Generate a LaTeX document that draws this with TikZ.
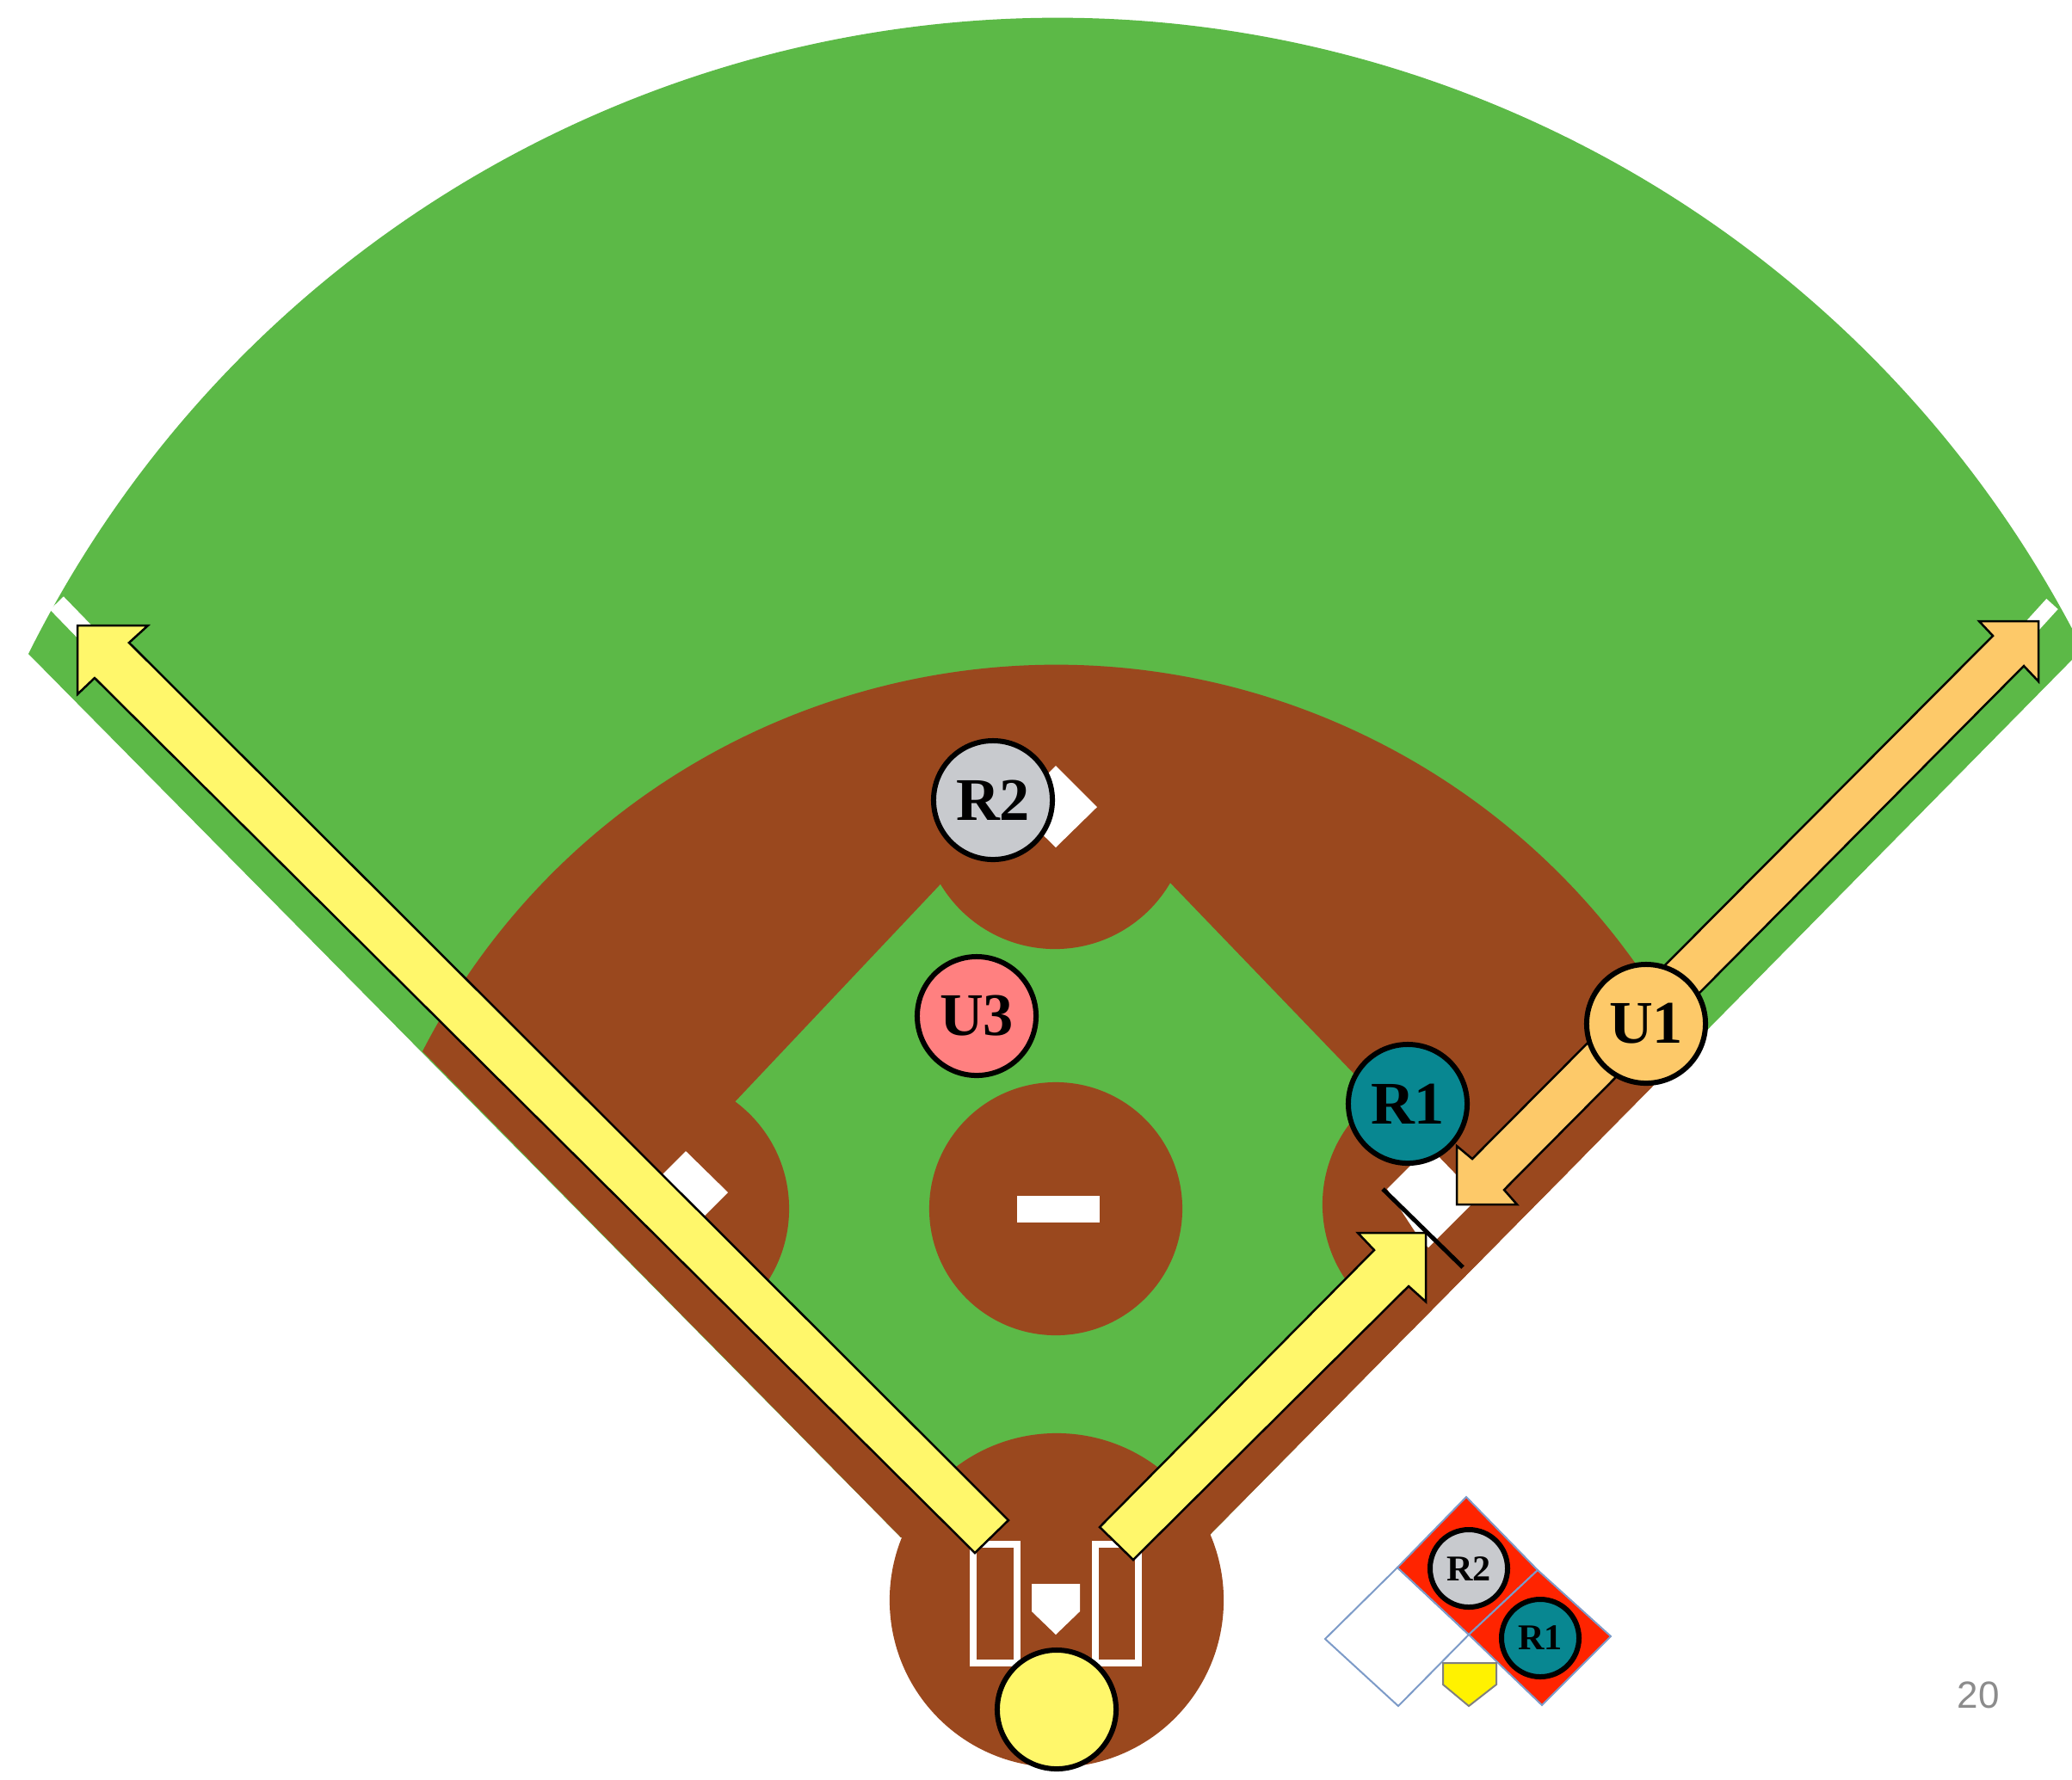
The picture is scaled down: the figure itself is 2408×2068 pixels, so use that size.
\documentclass[tikz,border=0pt]{standalone}
\usepackage{fontspec}
\setmainfont{Liberation Serif}
\newfontfamily\pagefont{Liberation Sans}
\usepackage{xcolor}
\definecolor{grass}{RGB}{92,185,71}
\definecolor{dirt}{RGB}{154,72,30}
\definecolor{lemon}{RGB}{255,247,107}
\definecolor{peach}{RGB}{253,201,105}
\definecolor{teal1}{RGB}{8,135,145}
\definecolor{silver1}{RGB}{200,202,206}
\definecolor{salmon1}{RGB}{255,128,128}
\definecolor{redzone}{RGB}{255,36,0}
\definecolor{zoneline}{RGB}{125,155,200}
\definecolor{pagegray}{RGB}{140,140,140}

\begin{document}
\begin{tikzpicture}[
  x=0.01cm, y=-0.01cm,
  pcircle/.style={circle, draw=black, fill=#1, line width=0.06cm, minimum size=1.38cm, inner sep=0pt, font=\fontsize{20}{24}\selectfont\bfseries},
  mcircle/.style={circle, draw=black, fill=#1, line width=0.06cm, minimum size=0.9cm, inner sep=0pt, font=\fontsize{12}{14}\selectfont\bfseries},
  blockarrow/.style={draw=black, fill=#1, line width=0.025cm},
  zone/.style={draw=zoneline, fill=#1, line width=0.02cm}
]
  \useasboundingbox (0,0) rectangle (2408,2068);

  % Outfield and dirt
  \fill[grass] (33,760) arc[start angle=153.47, end angle=26.8, radius=13.35cm] -- (1405,1785) -- (1047,1787) -- cycle;
  \fill[dirt] (491,1222) arc[start angle=152.8, end angle=27.3, radius=8.27cm] -- (1405,1785) -- (1047,1787) -- cycle;
  \fill[grass] (1226,887) -- (1704,1384) -- (1228,1862) -- (753,1388) -- cycle;
  \fill[dirt] (1228,1860) circle[radius=1.94cm];

  % Base cut-outs
  \begin{scope}
    \clip (491,1222) arc[start angle=152.8, end angle=27.3, radius=8.27cm] -- (1405,1785) -- (1047,1787) -- cycle;
    \fill[dirt] (1226,948) circle[radius=1.55cm];
    \fill[dirt] (762,1405) circle[radius=1.55cm];
    \fill[dirt] (1692,1400) circle[radius=1.55cm];
  \end{scope}
  \fill[dirt] (1227,1405) circle[radius=1.47cm];

  % Rubber, bases, plate, boxes
  \fill[white] (1182,1390) rectangle (1278,1421);
  \fill[white] (1227,890) -- (1275,938) -- (1227,985) -- (1179,938) -- cycle;
  \fill[white] (797,1338) -- (846,1386) -- (798,1434) -- (749,1386) -- cycle;
  \fill[white] (1612,1382) -- (1661,1333) -- (1718,1392) -- (1660,1450) -- (1650,1440) -- cycle;
  \draw[black, line width=0.05cm] (1607,1382) -- (1700,1473);
  \draw[white, line width=0.08cm] (1131,1795) rectangle (1182,1933);
  \draw[white, line width=0.08cm] (1273,1795) rectangle (1323,1933);
  \fill[white] (1199,1841) -- (1255,1841) -- (1255,1873) -- (1227,1900) -- (1199,1873) -- cycle;

  % Foul line ends
  \draw[white, line width=0.22cm] (66,701) -- (130,767);
  \draw[white, line width=0.18cm] (2385,702) -- (2335,757);

  % Arrows
  \draw[blockarrow=lemon] (90,727) -- (172,727) -- (150,747) -- (1172,1767) -- (1133,1805) -- (110,788) -- (90,807) -- cycle;
  \draw[blockarrow=lemon] (1278,1775) -- (1597,1453) -- (1578,1433) -- (1657,1433) -- (1657,1513) -- (1637,1495) -- (1317,1813) -- cycle;
  \draw[blockarrow=peach] (2369,722) -- (2369,792) -- (2352,774) -- (1748,1383) -- (1763,1400) -- (1693,1400) -- (1693,1332) -- (1711,1347) -- (2316,739) -- (2300,722) -- cycle;

  % Officials and fielders
  \node[pcircle=silver1] (r2) at (1154,930) {R2};
  \node[pcircle=salmon1] (u3) at (1135,1181) {U3};
  \node[pcircle=teal1] (r1) at (1636,1283) {R1};
  \node[pcircle=peach] (u1) at (1913,1190) {U1};
  \node[pcircle=lemon] (pu) at (1228,1987) {};

  % Small key
  \draw[zone=white] (1624,1822) -- (1707,1900) -- (1625,1983) -- (1540,1905) -- cycle;
  \draw[zone=redzone] (1704,1740) -- (1787,1825) -- (1707,1900) -- (1624,1822) -- cycle;
  \draw[zone=redzone] (1787,1825) -- (1872,1902) -- (1792,1982) -- (1707,1900) -- cycle;
  \draw[draw=gray, fill=yellow, line width=0.02cm] (1677,1933) -- (1739,1933) -- (1739,1958) -- (1707,1983) -- (1677,1958) -- cycle;
  \node[mcircle=silver1] (kr2) at (1707,1823) {R2};
  \node[mcircle=teal1] (kr1) at (1790,1904) {R1};

  \node[font=\fontsize{12.5}{15}\selectfont\pagefont, text=pagegray] (pageno) at (2299,1970) {20};
\end{tikzpicture}
\end{document}
